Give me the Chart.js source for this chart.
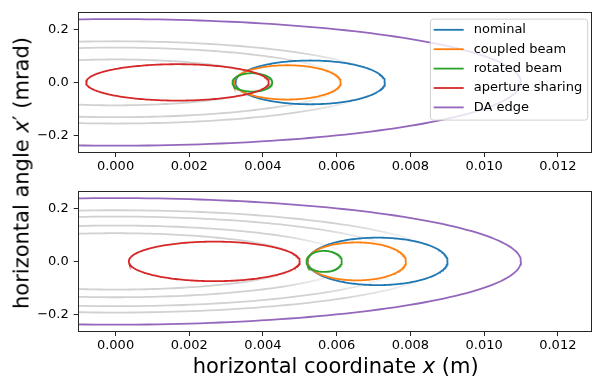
<!DOCTYPE html>
<html>
<head>
<meta charset="utf-8">
<script src="https://cdn.jsdelivr.net/npm/chart.js@4.4.0/dist/chart.umd.min.js"></script>
<style>
  body { margin: 0; background: #fff; }
  #wrap { position: relative; width: 593px; height: 378px; font-family: "DejaVu Sans", sans-serif; overflow: hidden; }
  canvas { position: absolute; left: 0; }
  #topChart { top: 0; }
  #bottomChart { top: 178.8px; }
  .label { position: absolute; font-size: 21px; line-height: 21px; white-space: nowrap; color: #000; }
  #xlabel { left: 335.7px; top: 356px; transform: translateX(-50%); }
  #ylabel { left: 21.7px; top: 173px; transform: translate(-50%, -50%) rotate(-90deg); }
</style>
</head>
<body>
<div id="wrap">
  <canvas id="topChart" width="593" height="180"></canvas>
  <canvas id="bottomChart" width="593" height="180"></canvas>
  <div class="label" id="ylabel">horizontal angle <i>x</i>′ (mrad)</div>
  <div class="label" id="xlabel">horizontal coordinate <i>x</i> (m)</div>
</div>
<script>
// series, in legend order
const seriesNames = ['nominal', 'coupled beam', 'rotated beam', 'aperture sharing', 'DA edge'];
const seriesColors = ['#1f77b4', '#ff7f0e', '#2ca02c', '#d62728', '#9467bd'];

// ellipses: centre x (m), half width (m), half height (mrad)
const topCentreX = [0.00528, 0.00466, 0.00371, 0.00168, 0.0];
const topHalfX = [0.00203, 0.00145, 0.00054, 0.00248, 0.0110];
const topHalfY = [0.083, 0.065, 0.035, 0.069, 0.240];

const bottomCentreX = [0.00711, 0.00654, 0.00566, 0.00268, 0.0];
const bottomHalfX = [0.00190, 0.00134, 0.00048, 0.00232, 0.0110];
const bottomHalfY = [0.090, 0.072, 0.040, 0.075, 0.240];

// grey contours, centred on zero
const topGreyHalfX = [0.0072, 0.0062, 0.0041];
const topGreyHalfY = [0.156, 0.132, 0.087];
const bottomGreyHalfX = [0.0089, 0.0079, 0.0064, 0.0051];
const bottomGreyHalfY = [0.194, 0.170, 0.136, 0.107];

// axes
const xTicks = [0, 0.002, 0.004, 0.006, 0.008, 0.010, 0.012];
const xTickLabels = ['0.000', '0.002', '0.004', '0.006', '0.008', '0.010', '0.012'];
const yTicks = [-0.2, 0, 0.2];
const yTickLabels = ['\u22120.2', '0.0', '0.2'];

const tickFont = { family: 'DejaVu Sans', size: 13 };
const greyColor = 'rgba(0,0,0,0.18)';

function ellipse(cx, ax, by) {
    const pts = [];
    const n = 240;
    for (let i = 0; i <= n; i++) {
        const t = 2 * Math.PI * i / n;
        pts.push({ x: cx + ax * Math.cos(t), y: by * Math.sin(t) });
    }
    return pts;
}

// grey contours fade out towards their right end
function fadingGrey(a) {
    return function(c) {
        const chart = c.chart;
        if (!chart.chartArea) return greyColor;
        const xs = chart.scales.x;
        const g = chart.ctx.createLinearGradient(xs.getPixelForValue(0.68 * a), 0, xs.getPixelForValue(0.99 * a), 0);
        g.addColorStop(0, greyColor);
        g.addColorStop(1, 'rgba(0,0,0,0)');
        return g;
    };
}

function buildDatasets(cx, hx, hy, greyX, greyY) {
    const sets = [];
    seriesNames.forEach((name, i) => {
        sets.push({
            label: name,
            data: ellipse(cx[i], hx[i], hy[i]),
            borderColor: seriesColors[i],
            borderWidth: 1.8,
            showLine: true,
            pointRadius: 0,
            order: seriesNames.length - i
        });
    });
    greyX.forEach((a, i) => {
        sets.push({
            label: '',
            data: ellipse(0, a, greyY[i]),
            borderColor: fadingGrey(a),
            borderWidth: 1.8,
            showLine: true,
            pointRadius: 0,
            order: 20 + i
        });
    });
    return sets;
}

// full box round the plot area, like the spines
const framePlugin = {
    id: 'frame',
    afterDatasetsDraw(chart) {
        const { ctx, chartArea } = chart;
        ctx.save();
        ctx.strokeStyle = '#262626';
        ctx.lineWidth = 1;
        ctx.strokeRect(Math.round(chartArea.left) - 0.5, Math.round(chartArea.top) - 0.5,
            Math.round(chartArea.width) + 1, Math.round(chartArea.height) + 1);
        ctx.restore();
    }
};

// framed legend in the upper right corner
const legendPlugin = {
    id: 'boxLegend',
    afterDatasetsDraw(chart) {
        const { ctx, chartArea } = chart;
        ctx.save();
        ctx.font = '13px "DejaVu Sans"';
        const textW = Math.max(...seriesNames.map(n => ctx.measureText(n).width));
        const w = 3.3 + 30 + 10 + textW + 5.5;
        const h = 101;
        const right = chartArea.right - 3.3;
        const top = chartArea.top + 6.3;
        const left = right - w;
        ctx.beginPath();
        if (ctx.roundRect) ctx.roundRect(left, top, w, h, 3);
        else ctx.rect(left, top, w, h);
        ctx.fillStyle = 'rgba(255,255,255,0.8)';
        ctx.fill();
        ctx.strokeStyle = '#d0d0d0';
        ctx.lineWidth = 1;
        ctx.stroke();
        ctx.textBaseline = 'middle';
        ctx.textAlign = 'left';
        seriesNames.forEach((name, i) => {
            const y = top + 10.7 + i * 19.4;
            ctx.strokeStyle = seriesColors[i];
            ctx.lineWidth = 1.8;
            ctx.beginPath();
            ctx.moveTo(left + 3.3, y);
            ctx.lineTo(left + 33.3, y);
            ctx.stroke();
            ctx.fillStyle = '#000';
            ctx.fillText(name, left + 43.3, y);
        });
        ctx.restore();
    }
};

function makeChart(id, datasets, withLegend) {
    return new Chart(document.getElementById(id), {
        type: 'scatter',
        data: { datasets: datasets },
        options: {
            responsive: false,
            animation: false,
            layout: { padding: { top: 8.7, right: 2, left: 0, bottom: 0 } },
            plugins: { legend: { display: false }, tooltip: { enabled: false } },
            scales: {
                x: {
                    type: 'linear',
                    min: -0.001,
                    max: 0.0129,
                    afterBuildTicks: s => { s.ticks = xTicks.map(v => ({ value: v })); },
                    afterFit: s => { s.height = 28; },
                    ticks: {
                        callback: (v, i) => xTickLabels[i],
                        autoSkip: false,
                        maxRotation: 0,
                        padding: 2,
                        color: '#000',
                        font: tickFont
                    },
                    grid: { drawOnChartArea: false, tickLength: 5, color: '#262626' },
                    border: { display: false }
                },
                y: {
                    type: 'linear',
                    min: -0.264,
                    max: 0.264,
                    afterBuildTicks: s => { s.ticks = yTicks.map(v => ({ value: v })); },
                    afterFit: s => { s.width = 78.7; },
                    ticks: {
                        callback: (v, i) => yTickLabels[i],
                        padding: 5,
                        color: '#000',
                        font: tickFont
                    },
                    grid: { drawOnChartArea: false, tickLength: 5, color: '#262626' },
                    border: { display: false }
                }
            }
        },
        plugins: withLegend ? [framePlugin, legendPlugin] : [framePlugin]
    });
}

makeChart('topChart', buildDatasets(topCentreX, topHalfX, topHalfY, topGreyHalfX, topGreyHalfY), true);
makeChart('bottomChart', buildDatasets(bottomCentreX, bottomHalfX, bottomHalfY, bottomGreyHalfX, bottomGreyHalfY), false);
</script>
</body>
</html>
